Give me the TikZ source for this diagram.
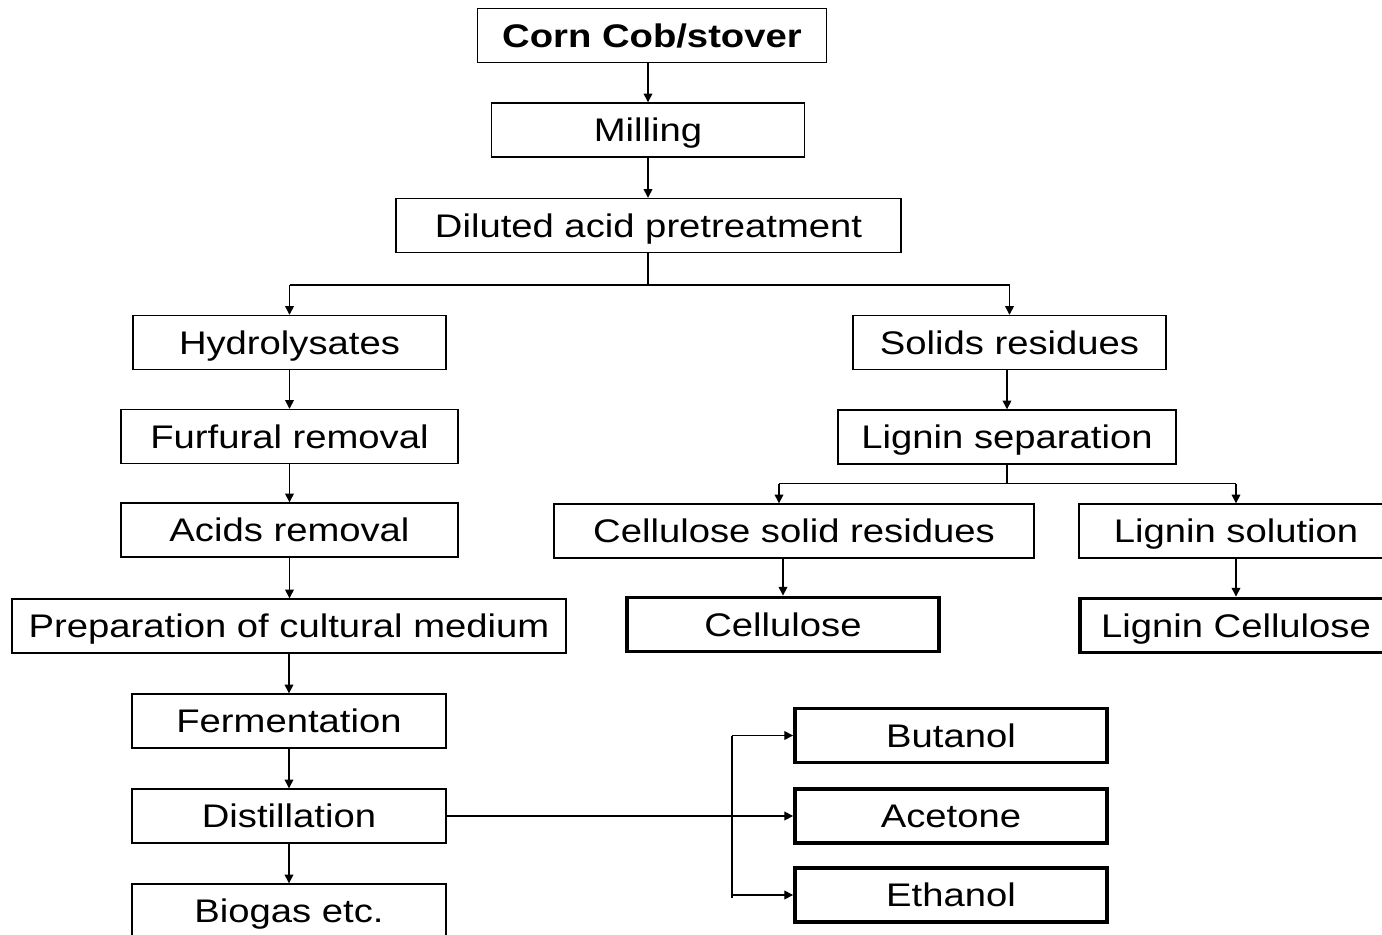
\documentclass[tikz,border=0pt]{standalone}
\usepackage{fontspec}
\setmainfont{Liberation Sans}[FakeStretch=1.17]
\usetikzlibrary{arrows.meta}
\begin{document}
\begin{tikzpicture}[x=0.02cm,y=-0.02cm,
    box/.style={draw,line width=0.8pt,inner sep=0pt,minimum height=54*0.02cm,
        text height=13.3pt,text depth=0pt,font=\fontsize{18.6}{22}\selectfont},
    endbox/.style={box,line width=2.2pt},
    flow/.style={line width=0.8pt,-{Triangle[length=5pt,width=5pt]}}]
    \useasboundingbox (0,0) rectangle (1382,935);
    \clip (0,0) rectangle (1382,935);
    \def\w{0.02cm}
    \node[box,font=\fontsize{18.6}{22}\selectfont\bfseries,minimum width=349*\w] (corn) at (652,35.5) {Corn Cob/stover};
    \node[box,minimum width=313*\w] (milling) at (648,130) {Milling};
    \node[box,minimum width=505*\w] (acid) at (648.5,225.5) {Diluted acid pretreatment};
    \node[box,minimum width=313*\w] (hydro) at (289.5,342.5) {Hydrolysates};
    \node[box,minimum width=313*\w] (solids) at (1009.5,342.5) {Solids residues};
    \node[box,minimum width=337*\w] (furfural) at (289.5,436.5) {Furfural removal};
    \node[box,minimum width=338*\w] (ligsep) at (1007,437) {Lignin separation};
    \node[box,minimum width=337*\w] (acids) at (289.5,530) {Acids removal};
    \node[box,minimum width=480*\w] (cellres) at (794,531) {Cellulose solid residues};
    \node[box,minimum width=314*\w] (ligsol) at (1236,531) {Lignin solution};
    \node[box,minimum width=554*\w] (medium) at (289,626) {Preparation of cultural medium};
    \node[endbox,minimum width=312*\w] (cellulose) at (783,624.5) {Cellulose};
    \node[endbox,minimum width=312*\w] (ligcell) at (1236,625.5) {Lignin Cellulose};
    \node[box,minimum width=314*\w] (ferment) at (289,721) {Fermentation};
    \node[box,minimum width=314*\w] (distil) at (289,816) {Distillation};
    \node[box,minimum width=314*\w] (biogas) at (289,911) {Biogas etc.};
    \node[endbox,minimum width=312*\w] (butanol) at (951,735.5) {Butanol};
    \node[endbox,minimum width=312*\w] (acetone) at (951,816) {Acetone};
    \node[endbox,minimum width=312*\w] (ethanol) at (951,895) {Ethanol};

    \draw[flow] (corn.south -| milling) -- (milling);
    \draw[flow] (milling) -- (acid.north -| milling);
    \draw[line width=0.8pt] (acid.south -| milling) -- ++(0,32) coordinate (split1);
    \draw[line width=0.8pt] (split1 -| hydro) -- (split1 -| solids);
    \draw[flow] (split1 -| hydro) -- (hydro);
    \draw[flow] (split1 -| solids) -- (solids);
    \draw[flow] (hydro) -- (furfural);
    \draw[flow] (furfural) -- (acids);
    \draw[flow] (acids) -- (medium.north -| acids);
    \draw[flow] (medium.south -| ferment) -- (ferment);
    \draw[flow] (ferment) -- (distil);
    \draw[flow] (distil) -- (biogas);
    \draw[flow] (solids.south -| ligsep) -- (ligsep);
    \draw[line width=0.8pt] (ligsep.south) -- ++(0,19) coordinate (split2);
    \draw[line width=0.8pt] (split2 -| 779,0) -- (split2 -| ligsol);
    \draw[flow] (split2 -| 779,0) -- (cellres.north -| 779,0);
    \draw[flow] (split2 -| ligsol) -- (ligsol);
    \draw[flow] (cellres.south -| cellulose) -- (cellulose);
    \draw[flow] (ligsol) -- (ligcell);
    \draw[flow] (distil) -- (acetone);
    \coordinate (bus) at (732,898);
    \draw[line width=0.8pt] (bus |- butanol) -- (bus);
    \draw[flow] (bus |- butanol) -- (butanol);
    \draw[flow] (bus |- ethanol) -- (ethanol);
\end{tikzpicture}
\end{document}
